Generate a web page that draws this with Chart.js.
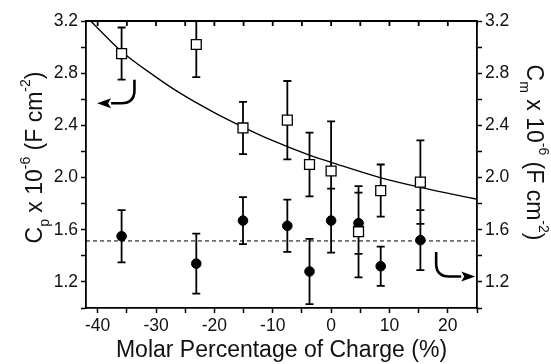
<!DOCTYPE html>
<html>
<head>
<meta charset="utf-8">
<script src="https://cdn.jsdelivr.net/npm/chart.js@4.4.1/dist/chart.umd.min.js"></script>
<style>
  body { margin: 0; background: #fff; }
  #wrap { width: 551px; height: 364px; }
</style>
</head>
<body>
<div id="wrap"><canvas id="chart"></canvas></div>
<script>
// molar percentage of charge (%)
var charge = [-35.9, -23.1, -15.1, -7.5, -3.7, 0, 4.7, 8.5, 15.3];
// Cm x 10^-6 (open squares, right axis)
var cm    = [2.95, 3.02, 2.38, 2.44, 2.10, 2.05, 1.585, 1.90, 1.965];
var cmErr = [0.20, 0.25, 0.20, 0.30, 0.245, 0.38, 0.35, 0.20, 0.32];
// Cp x 10^-6 (filled circles, left axis)
var cp    = [1.55, 1.34, 1.67, 1.63, 1.28, 1.67, 1.65, 1.32, 1.52];
var cpErr = [0.20, 0.23, 0.18, 0.20, 0.25, 0.245, 0.235, 0.15, 0.23];
var cpMean = 1.514;
// fitted curve through Cm
var fitX = [-41.2, -36, -30, -25.8, -20.1, -14.9, -10.4, -3.5, 0, 8.4, 15.3, 25];
var fitY = [3.20, 2.97, 2.77, 2.645, 2.50, 2.383, 2.290, 2.168, 2.117, 2.000, 1.925, 1.834];

var xMin = -42, xMax = 25;
var xTicks = [-40, -35, -30, -25, -20, -15, -10, -5, 0, 5, 10, 15, 20, 25];
var yTicks = [1.0, 1.2, 1.4, 1.6, 1.8, 2.0, 2.2, 2.4, 2.6, 2.8, 3.0, 3.2];

var FONT = "'Liberation Sans', Arial, sans-serif";

function pts(xs, ys) {
    return xs.map(function(x, i) { return {x: x, y: ys[i]}; });
}

function errorBars(ctx, xs, ys, errs, xs_, ys_) {
    for (var i = 0; i < xs.length; i++) {
        var px = xs_.getPixelForValue(xs[i]);
        var top = ys_.getPixelForValue(ys[i] + errs[i]);
        var bot = ys_.getPixelForValue(ys[i] - errs[i]);
        ctx.moveTo(px, top); ctx.lineTo(px, bot);
        ctx.moveTo(px - 4, top); ctx.lineTo(px + 4, top);
        ctx.moveTo(px - 4, bot); ctx.lineTo(px + 4, bot);
    }
}

function arrow(ctx, sx, sy, tx, ty) {
    var dir = tx < sx ? -1 : 1;
    var r = 13, head = 14, half = 5;
    ctx.beginPath();
    ctx.moveTo(sx, sy);
    ctx.lineTo(sx, ty - r);
    ctx.quadraticCurveTo(sx, ty, sx + dir * r, ty);
    ctx.lineTo(tx - dir * head, ty);
    ctx.stroke();
    ctx.beginPath();
    ctx.moveTo(tx, ty);
    ctx.lineTo(tx - dir * head, ty - half);
    ctx.lineTo(tx - dir * (head - 3), ty);
    ctx.lineTo(tx - dir * head, ty + half);
    ctx.closePath();
    ctx.fill();
}

function richText(ctx, parts, cx, cy, angle) {
    ctx.save();
    ctx.translate(cx, cy);
    ctx.rotate(angle);
    ctx.textBaseline = 'alphabetic';
    ctx.textAlign = 'left';
    var w = 0;
    parts.forEach(function(p) { ctx.font = p.s + 'px ' + FONT; p.w = ctx.measureText(p.t).width; w += p.w; });
    var x = -w / 2;
    parts.forEach(function(p) {
        ctx.font = p.s + 'px ' + FONT;
        ctx.fillText(p.t, x, p.dy || 0);
        x += p.w;
    });
    ctx.restore();
}

function titleParts(sub) {
    return [
        {t: 'C', s: 23}, {t: sub, s: 14, dy: 7}, {t: ' x 10', s: 23},
        {t: '-6', s: 14, dy: -12}, {t: ' (F cm', s: 23},
        {t: '-2', s: 14, dy: -12}, {t: ')', s: 23}
    ];
}

var decor = {
    id: 'decor',
    beforeDatasetsDraw: function(chart) {
        var ctx = chart.ctx, a = chart.chartArea, s = chart.scales;
        ctx.save();
        ctx.beginPath();
        ctx.rect(a.left, a.top, a.right - a.left, a.bottom - a.top);
        ctx.clip();
        ctx.strokeStyle = '#000';
        ctx.lineWidth = 1.8;
        ctx.beginPath();
        errorBars(ctx, charge, cm, cmErr, s.x, s.y1);
        errorBars(ctx, charge, cp, cpErr, s.x, s.y);
        ctx.stroke();
        ctx.restore();
    },
    afterDraw: function(chart) {
        var ctx = chart.ctx, a = chart.chartArea, s = chart.scales;
        ctx.save();
        ctx.strokeStyle = '#000';
        ctx.fillStyle = '#000';
        // top frame with inward ticks
        ctx.lineWidth = 1.8;
        ctx.beginPath();
        ctx.moveTo(a.left, a.top); ctx.lineTo(a.right, a.top);
        xTicks.forEach(function(v) {
            var px = s.x.getPixelForValue(v);
            ctx.moveTo(px, a.top); ctx.lineTo(px, a.top + 5);
        });
        ctx.stroke();
        // arrows pointing at the axes
        ctx.lineWidth = 2.6;
        arrow(ctx, s.x.getPixelForValue(-33.7), s.y.getPixelForValue(2.75),
                   s.x.getPixelForValue(-40.1), s.y.getPixelForValue(2.57));
        arrow(ctx, s.x.getPixelForValue(18.0), s.y.getPixelForValue(1.43),
                   s.x.getPixelForValue(24.7), s.y.getPixelForValue(1.242));
        // axis titles
        ctx.fillStyle = '#111';
        richText(ctx, titleParts('p'), 42, 157.5, -Math.PI / 2);
        richText(ctx, titleParts('m'), 527, 152.5, Math.PI / 2);
        ctx.restore();
    }
};

var tickFont = {family: FONT, size: 17.5};

function yScale(pos, width) {
    return {
        position: pos,
        min: 1.0, max: 3.2,
        afterBuildTicks: function(sc) { sc.ticks = yTicks.map(function(v) { return {value: v}; }); },
        afterFit: function(sc) { sc.width = width; },
        ticks: {
            color: '#111', padding: 3, autoSkip: false,
            font: tickFont,
            callback: function(v) { return Math.round(v * 10) % 4 === 0 ? v.toFixed(1) : ''; }
        },
        grid: {drawOnChartArea: false, drawTicks: true, tickLength: 5, tickWidth: 1.5, tickColor: '#000'},
        border: {display: true, color: '#000', width: 1.8}
    };
}

new Chart(document.getElementById('chart').getContext('2d'), {
    type: 'scatter',
    data: {
        datasets: [{
            data: pts(charge, cm),
            yAxisID: 'y1',
            pointStyle: 'rect',
            pointRadius: 7,
            pointBackgroundColor: '#fff',
            pointBorderColor: '#000',
            pointBorderWidth: 1.3
        }, {
            data: pts(charge, cp),
            yAxisID: 'y',
            pointStyle: 'circle',
            pointRadius: 4.8,
            pointBackgroundColor: '#000',
            pointBorderColor: '#000',
            pointBorderWidth: 1
        }, {
            data: pts(fitX, fitY),
            yAxisID: 'y1',
            showLine: true,
            pointRadius: 0,
            borderColor: '#000',
            borderWidth: 1.3,
            cubicInterpolationMode: 'monotone'
        }, {
            data: [{x: xMin, y: cpMean}, {x: xMax, y: cpMean}],
            yAxisID: 'y',
            showLine: true,
            pointRadius: 0,
            borderColor: '#000',
            borderWidth: 1,
            borderDash: [4, 3]
        }]
    },
    options: {
        responsive: true,
        maintainAspectRatio: false,
        animation: false,
        layout: {padding: {top: 21}},
        plugins: {legend: {display: false}, tooltip: {enabled: false}},
        scales: {
            x: {
                type: 'linear',
                position: 'bottom',
                min: xMin, max: xMax,
                afterBuildTicks: function(sc) { sc.ticks = xTicks.map(function(v) { return {value: v}; }); },
                afterFit: function(sc) { sc.height = 56; },
                ticks: {
                    color: '#111', padding: 3, autoSkip: false,
                    maxRotation: 0, minRotation: 0,
                    font: tickFont,
                    callback: function(v) { return v % 10 === 0 ? String(v) : ''; }
                },
                grid: {drawOnChartArea: false, drawTicks: true, tickLength: 5, tickWidth: 1.5, tickColor: '#000'},
                border: {display: true, color: '#000', width: 1.8},
                title: {
                    display: true,
                    text: 'Molar Percentage of Charge (%)',
                    color: '#111',
                    font: {family: FONT, size: 23},
                    padding: 0
                }
            },
            y: yScale('left', 86),
            y1: yScale('right', 74)
        }
    },
    plugins: [decor]
});
</script>
</body>
</html>
